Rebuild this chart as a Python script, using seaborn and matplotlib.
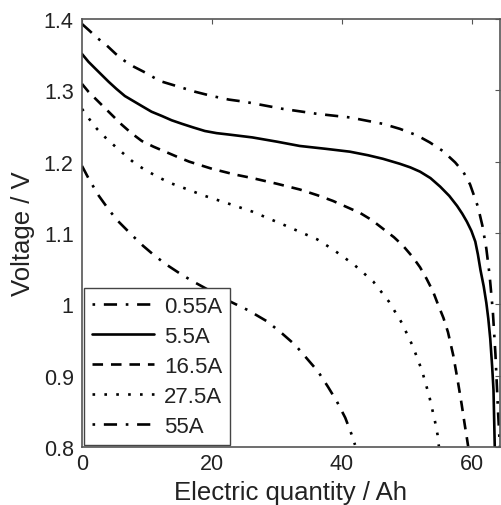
#importing required libraries
import pandas as pd
import matplotlib
matplotlib.use("Agg")
import matplotlib.pyplot as plt
import seaborn as sns

#discharge curves (electric quantity in Ah, voltage in V)
currents = ["0.55A", "5.5A", "16.5A", "27.5A", "55A"]

q_055 = [0, 1.1, 2.4, 3.8, 5.2, 6.6, 8.0, 9.5, 12.0, 14.9, 17.4, 20.0, 22.6, 25.0, 30.9, 36.2, 41.2, 46.3, 48.9,
         51.5, 53.5, 55.5, 57.4, 58.7, 59.7, 60.9, 61.6, 62.2, 62.7, 63.2, 63.6, 64.0, 64.3]
v_055 = [1.393, 1.384, 1.373, 1.363, 1.351, 1.341, 1.333, 1.326, 1.313, 1.305, 1.298, 1.292, 1.287, 1.284, 1.274, 1.267,
         1.262, 1.253, 1.246, 1.237, 1.227, 1.215, 1.199, 1.185, 1.168, 1.137, 1.110, 1.078, 1.041, 0.990, 0.930, 0.850, 0.798]

q_55 = [0, 1.0, 2.1, 3.1, 4.1, 5.3, 6.6, 7.9, 9.2, 10.7, 12.3, 13.8, 15.4, 17.1, 18.9, 20.7, 22.6, 26.2, 30.0, 33.5,
        37.5, 41.2, 44.0, 46.3, 48.9, 50.5, 52.0, 53.6, 55.1, 56.5, 57.7, 58.5, 59.2, 59.9, 60.5, 60.9, 61.3, 61.8,
        62.2, 62.5, 62.8, 63.1, 63.3, 63.4, 63.5]
v_55 = [1.351, 1.340, 1.330, 1.321, 1.312, 1.302, 1.292, 1.285, 1.278, 1.270, 1.264, 1.258, 1.253, 1.248, 1.243,
        1.240, 1.238, 1.234, 1.228, 1.222, 1.218, 1.214, 1.209, 1.204, 1.197, 1.192, 1.186, 1.177, 1.165, 1.152, 1.138,
        1.127, 1.116, 1.103, 1.088, 1.070, 1.048, 1.025, 1.002, 0.980, 0.952, 0.912, 0.880, 0.840, 0.798]

q_165 = [0, 1.0, 2.1, 3.1, 4.1, 6.1, 7.6, 9.2, 11.0, 12.8, 14.6, 16.5, 20.0, 23.5, 26.2, 30.0, 33.5, 36.2, 38.6,
         42.8, 44.6, 46.3, 48.0, 49.4, 50.9, 52.0, 53.0, 54.0, 54.8, 55.6, 56.3, 57.1, 57.8, 58.4, 58.9, 59.2, 59.4]
v_165 = [1.309, 1.298, 1.288, 1.279, 1.270, 1.252, 1.240, 1.229, 1.221, 1.214, 1.207, 1.200, 1.190, 1.182, 1.177,
         1.169, 1.161, 1.153, 1.145, 1.128, 1.118, 1.106, 1.094, 1.082, 1.066, 1.052, 1.036, 1.018, 0.999, 0.981,
         0.961, 0.929, 0.893, 0.860, 0.830, 0.813, 0.801]

q_275 = [0, 1.1, 2.3, 3.8, 5.4, 6.8, 8.2, 10.0, 11.8, 13.6, 15.4, 18.9, 22.6, 26.2, 30.9, 36.2, 38.6, 41.8, 44.8,
         47.2, 49.2, 50.9, 52.3, 53.4, 54.3, 54.7, 54.9]
v_275 = [1.274, 1.260, 1.246, 1.232, 1.219, 1.208, 1.197, 1.187, 1.178, 1.170, 1.164, 1.152, 1.141, 1.130, 1.112,
         1.091, 1.077, 1.056, 1.032, 1.004, 0.974, 0.941, 0.907, 0.872, 0.836, 0.817, 0.801]

q_550 = [0, 1.1, 2.6, 4.1, 5.4, 6.6, 7.8, 9.4, 11.2, 13.1, 15.1, 17.1, 20.5, 23.0, 25.5, 28.5, 30.8, 32.8, 34.6,
         36.3, 37.8, 39.2, 40.5, 41.5, 42.0]
v_550 = [1.194, 1.175, 1.152, 1.133, 1.118, 1.107, 1.096, 1.082, 1.068, 1.055, 1.043, 1.032, 1.015, 1.003, 0.992,
         0.976, 0.959, 0.943, 0.924, 0.906, 0.885, 0.864, 0.841, 0.817, 0.803]

x_ticks = [0, 20, 40, 60]
y_ticks = [0.8, 0.9, 1.0, 1.1, 1.2, 1.3, 1.4]
y_tick_labels = ["0.8", "0.9", "1", "1.1", "1.2", "1.3", "1.4"]

#building long form table for seaborn
frames = []
for name, q, v in zip(currents, [q_055, q_55, q_165, q_275, q_550], [v_055, v_55, v_165, v_275, v_550]):
    frames.append(pd.DataFrame({"q": q, "v": v, "current": name}))
df = pd.concat(frames, ignore_index=True)

sns.set_theme(style="white")
plt.rcParams["font.family"] = ["Liberation Sans", "DejaVu Sans"]
plt.rcParams["text.color"] = "#222222"
plt.rcParams["axes.labelcolor"] = "#222222"
plt.rcParams["xtick.color"] = "#222222"
plt.rcParams["ytick.color"] = "#222222"

fig = plt.figure(figsize=(5.02, 5.06), dpi=100)
ax = fig.add_axes([0.1633, 0.1146, 0.8327, 0.8459])

#matlab style line patterns
dash_dot = (5, 3.3, 1, 3.3)
dash_styles = {"0.55A": dash_dot, "5.5A": "", "16.5A": (4, 3), "27.5A": (1, 3.5), "55A": dash_dot}

sns.lineplot(data=df, x="q", y="v", style="current", style_order=currents, dashes=dash_styles,
             color="black", linewidth=1.9, sort=False, estimator=None, ax=ax)

ax.set_xlim(0, 64.3)
ax.set_ylim(0.8, 1.4)
ax.set_xticks(x_ticks)
ax.set_yticks(y_ticks)
ax.set_yticklabels(y_tick_labels)
ax.set_xlabel("Electric quantity / Ah", fontsize=18.5, labelpad=4.5)
ax.set_ylabel("Voltage / V", fontsize=18.5, labelpad=6)
ax.tick_params(axis="both", direction="in", top=True, right=True, length=3.5, width=0.8,
               labelsize=15.5, color="#555555")
ax.tick_params(axis="x", pad=4)
ax.tick_params(axis="y", pad=6)
for s in ax.spines.values():
    s.set_color("#555555")
    s.set_linewidth(1.2)

sns.move_legend(ax, "lower left", bbox_to_anchor=(0, 0), title=None, frameon=True, fontsize=16,
                borderaxespad=0.1, borderpad=0.35, labelspacing=0.41, handlelength=2.8,
                handletextpad=0.45, fancybox=False, framealpha=1, edgecolor="#444444")
leg = ax.get_legend()
leg.get_frame().set_linewidth(1.0)
leg.set_zorder(5)
#legend dash-dot handles start with the dot like in matlab
for i in [0, 4]:
    leg.get_lines()[i].set_linestyle((8.3, dash_dot))

plt.savefig("out.png", dpi=100)
